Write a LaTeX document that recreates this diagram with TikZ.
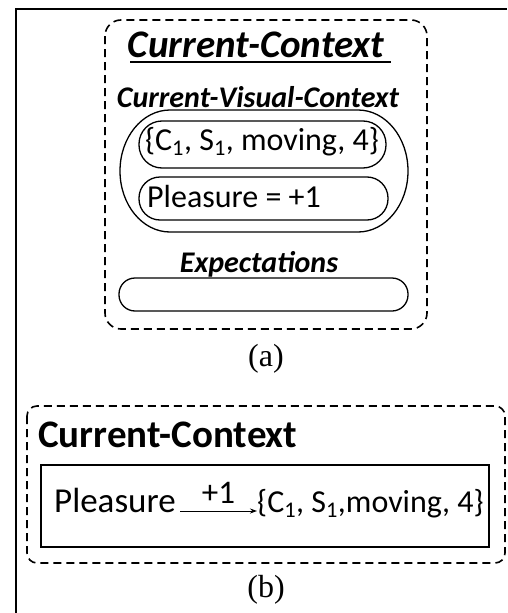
\documentclass[tikz,border=0pt]{standalone}
\usepackage{fontspec}
\setmainfont{Carlito}
\newfontfamily\serifx{Liberation Serif}
\usetikzlibrary{arrows.meta}
\tikzset{
  x=1pt, y=-1pt,
  frame/.style={line width=2pt},
  dashbox/.style={draw, line width=1.6pt, dash pattern=on 8pt off 5pt},
  pill/.style={draw, line width=1.3pt},
  txt/.style={inner sep=0pt, anchor=base},
  txtw/.style={inner sep=0pt, anchor=base west},
}
\newcommand{\fs}[1]{\fontsize{#1}{#1}\selectfont}
\newcommand{\sbx}[1]{\textsubscript{#1}}
\begin{document}
\begin{tikzpicture}
\useasboundingbox (0,0) rectangle (507,613);
% outer frame (clipped at right and bottom)
\draw[frame] (16,613) -- (16,9) -- (507,9);
% ---------- (a) ----------
\draw[dashbox, rounded corners=16pt] (105,20) rectangle (427,329);
\node[txt] (ttla) at (256,57) {\fs{39}\bfseries\itshape Current-Context};
\draw[line width=1.4pt] (130,62) -- (391,62);
\node[txt] (cvc) at (258,107) {\fs{30}\bfseries\itshape Current-Visual-Context};
\draw[pill] (170,110) -- (358,110) arc[start angle=-90, end angle=90, x radius=50, y radius=61]
  -- (170,232) arc[start angle=90, end angle=270, x radius=50, y radius=61] -- cycle;
\draw[pill, rounded corners=23pt] (139,121) rectangle (386,168);
\node[txt] (set1) at (262,150) {\fs{32}\{C\sbx{1}, S\sbx{1}, moving, 4\}};
\draw[pill, rounded corners=21pt] (139,177) rectangle (388,220);
\node[txtw] (pl1) at (147,207) {\fs{32}Pleasure = +1};
\node[txt] (exp) at (259,272) {\fs{30}\bfseries\itshape Expectations};
\draw[pill, rounded corners=16pt] (119,278) rectangle (408,311);
\node[txt] (capa) at (266,366) {\fs{32}\serifx (a)};
% ---------- (b) ----------
\draw[dashbox, rounded corners=10pt] (27,406) rectangle (505,563);
\node[txtw] (ttlb) at (38,447) {\fs{39}\bfseries Current-Context};
\draw[line width=1.3pt] (41,465) rectangle (489,547);
\node[txtw] (pl2) at (54,512) {\fs{35}Pleasure};
\node[txtw] (set2) at (257,512) {\fs{32}\{C\sbx{1}, S\sbx{1},moving, 4\}};
\coordinate (as) at (180,511);
\draw[line width=1pt, -{Stealth[length=7pt,width=5pt]}] (as) -- (set2.west |- as) node[midway, above=7pt, inner sep=0pt] (lab) {\fs{33}+1};
\node[txt] (capb) at (266,597) {\fs{32}\serifx (b)};
\end{tikzpicture}
\end{document}
